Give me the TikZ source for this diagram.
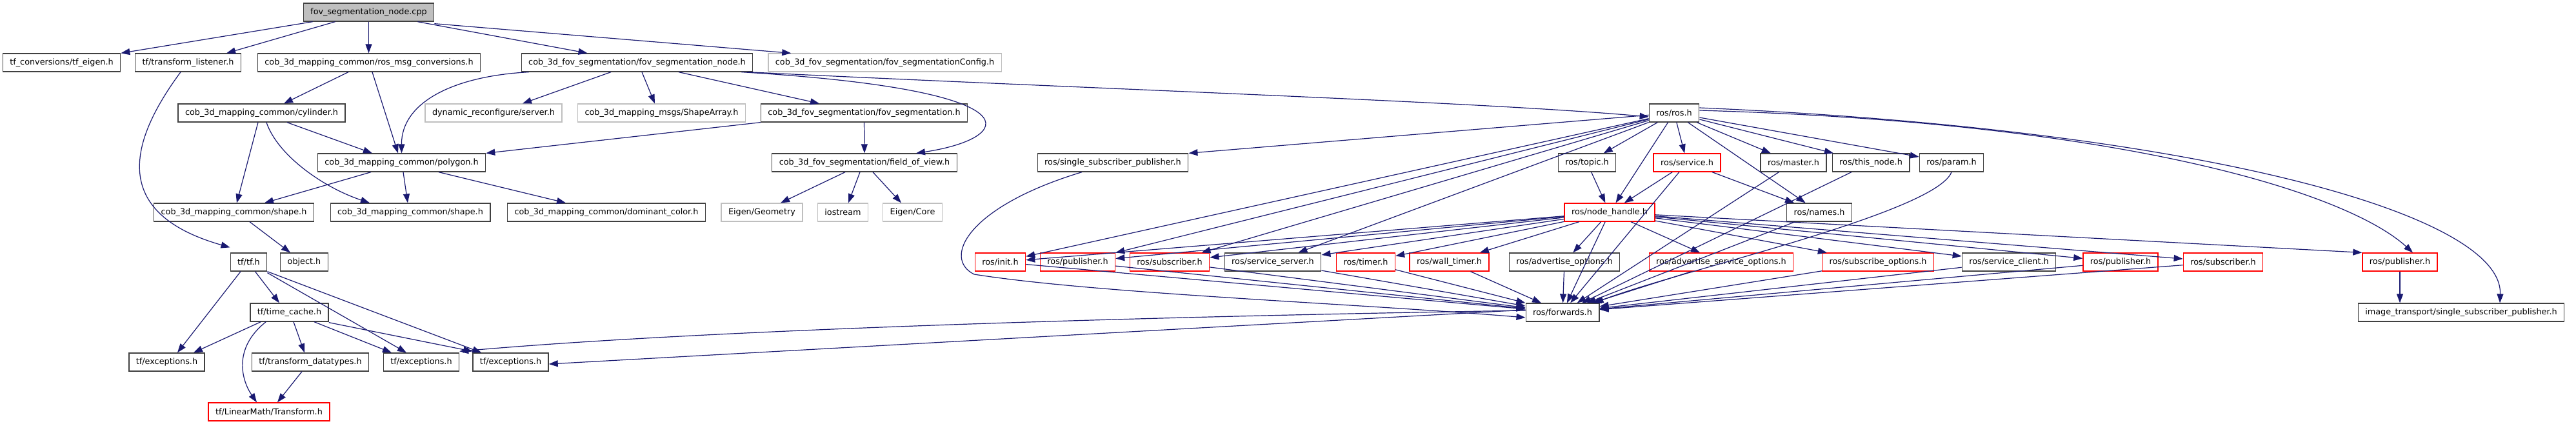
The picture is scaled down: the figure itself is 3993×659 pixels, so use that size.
\documentclass[tikz,border=0pt]{standalone}
\usepackage{fontspec}
\setmainfont{DejaVu Sans}
\usetikzlibrary{arrows.meta}

\definecolor{edgeblue}{HTML}{191970}
\definecolor{boxgray}{HTML}{404040}
\definecolor{extgray}{HTML}{BFBFBF}

\begin{document}
\begin{tikzpicture}[x=1pt,y=-1pt,
	file/.style={draw=boxgray,line width=1.3pt,minimum height=28pt,inner xsep=11pt,inner ysep=0pt,font=\fontsize{12.8}{14}\selectfont},
	trunc/.style={file,draw=red},
	ext/.style={file,draw=extgray},
	top/.style={file,fill=extgray},
	dep/.style={edgeblue,line width=1.2pt,-{Triangle[length=14pt,width=10pt]}}]
	\useasboundingbox (0,0) rectangle (3993,659);
	% rows
	\node[top] (root) at (571.5,19) {fov\_segmentation\_node.cpp};
	\node[file] (tfeigen) at (95.5,97) {tf\_conversions/tf\_eigen.h};
	\node[file] (tflisten) at (291.5,97) {tf/transform\_listener.h};
	\node[file] (rosmsg) at (572,97) {cob\_3d\_mapping\_common/ros\_msg\_conversions.h};
	\node[file] (fovnode) at (987.5,97) {cob\_3d\_fov\_segmentation/fov\_segmentation\_node.h};
	\node[ext] (fovcfg) at (1371.5,97) {cob\_3d\_fov\_segmentation/fov\_segmentationConfig.h};
	\node[file] (cylinder) at (405.5,175) {cob\_3d\_mapping\_common/cylinder.h};
	\node[ext] (dynrec) at (765,175) {dynamic\_reconfigure/server.h};
	\node[ext] (shapearr) at (1025.5,175) {cob\_3d\_mapping\_msgs/ShapeArray.h};
	\node[file] (fovseg) at (1339.5,175) {cob\_3d\_fov\_segmentation/fov\_segmentation.h};
	\node[file] (rosros) at (2595,175) {ros/ros.h};
	\node[file] (polygon) at (622.5,252) {cob\_3d\_mapping\_common/polygon.h};
	\node[file] (fov) at (1340,252) {cob\_3d\_fov\_segmentation/field\_of\_view.h};
	\node[file] (singlesub) at (1725,252) {ros/single\_subscriber\_publisher.h};
	\node[file] (topic) at (2460,252) {ros/topic.h};
	\node[trunc] (service) at (2615,252) {ros/service.h};
	\node[file] (master) at (2780,252) {ros/master.h};
	\node[file] (thisnode) at (2900,252) {ros/this\_node.h};
	\node[file] (param) at (3025,252) {ros/param.h};
	\node[file] (shapea) at (362.5,329) {cob\_3d\_mapping\_common/shape.h};
	\node[file] (shapeb) at (636,329) {cob\_3d\_mapping\_common/shape.h};
	\node[file] (domcol) at (940,329) {cob\_3d\_mapping\_common/dominant\_color.h};
	\node[ext] (eigeo) at (1181,329) {Eigen/Geometry};
	\node[ext] (iostr) at (1306.5,329) {iostream};
	\node[ext] (eicore) at (1414.5,329) {Eigen/Core};
	\node[trunc] (nodehandle) at (2495,329) {ros/node\_handle.h};
	\node[file] (names) at (2820,329) {ros/names.h};
	\node[file] (tftf) at (385.5,406) {tf/tf.h};
	\node[file] (object) at (471.5,406) {object.h};
	\node[trunc] (init) at (1550.5,406) {ros/init.h};
	\node[trunc] (puba) at (1670.5,406) {ros/publisher.h};
	\node[trunc] (suba) at (1813,406) {ros/subscriber.h};
	\node[file] (srvserv) at (1973,406) {ros/service\_server.h};
	\node[trunc] (timer) at (2117,406) {ros/timer.h};
	\node[trunc] (walltimer) at (2246.5,406) {ros/wall\_timer.h};
	\node[file] (advopt) at (2425,406) {ros/advertise\_options.h};
	\node[trunc] (advsrv) at (2668,406) {ros/advertise\_service\_options.h};
	\node[trunc] (subopt) at (2911,406) {ros/subscribe\_options.h};
	\node[file] (srvclient) at (3114,406) {ros/service\_client.h};
	\node[trunc] (pubb) at (3287,406) {ros/publisher.h};
	\node[trunc] (subb) at (3446,406) {ros/subscriber.h};
	\node[trunc] (pubc) at (3720,406) {ros/publisher.h};
	\node[file] (timecache) at (448.5,484) {tf/time\_cache.h};
	\node[file] (forwards) at (2422,484) {ros/forwards.h};
	\node[file] (imgtrans) at (3815,484) {image\_transport/single\_subscriber\_publisher.h};
	\node[file] (exca) at (258.5,561) {tf/exceptions.h};
	\node[file] (tfdata) at (481,561) {tf/transform\_datatypes.h};
	\node[file] (excb) at (653,561) {tf/exceptions.h};
	\node[file] (excc) at (791.5,561) {tf/exceptions.h};
	\node[trunc] (linmath) at (417,638) {tf/LinearMath/Transform.h};
	% root
	\draw[dep] ([xshift=15pt]root.south west) -- (tfeigen.north east);
	\draw[dep] ([xshift=50pt]root.south west) -- ([xshift=-23pt]tflisten.north east);
	\draw[dep] (root.south) -- (root.south|-rosmsg.north);
	\draw[dep] ([xshift=-26pt]root.south east) -- ([xshift=-77pt]fovnode.north);
	\draw[dep] ([yshift=-3pt]root.south east) -- ([xshift=36pt]fovcfg.north west);
	% mapping common
	\draw[dep] ([xshift=-32pt]rosmsg.south) -- ([xshift=34.5pt]cylinder.north);
	\draw[dep] ([xshift=5pt]rosmsg.south) -- ([xshift=-5.5pt]polygon.north);
	\draw[dep] ([xshift=-5.5pt]cylinder.south) -- ([xshift=4.5pt]shapea.north);
	\draw[dep] ([xshift=39.5pt]cylinder.south) -- ([xshift=-45.5pt]polygon.north);
	\draw[dep] ([xshift=7.5pt]cylinder.south) .. controls (430,240) and (500,290) .. ([xshift=-63pt]shapeb.north);
	\draw[dep] ([xshift=-47.5pt]polygon.south) -- ([xshift=47.5pt]shapea.north);
	\draw[dep] ([xshift=2.5pt]polygon.south) -- ([xshift=-4pt]shapeb.north);
	\draw[dep] ([xshift=57.5pt]polygon.south) -- ([xshift=-63pt]domcol.north);
	\draw[dep] ([xshift=24.5pt]shapea.south) -- ([xshift=-21.5pt]object.north);
	% tf
	\draw[dep] ([xshift=-11.5pt]tflisten.south) .. controls (200,220) and (170,330) .. ([yshift=8pt]tftf.north west);
	\draw[dep] ([xshift=-12.5pt]tftf.south) -- ([xshift=16.5pt]exca.north);
	\draw[dep] ([xshift=10pt]tftf.south) -- ([xshift=-15.5pt]timecache.north);
	\draw[dep] ([yshift=-2pt]tftf.south east) -- ([xshift=-23pt]excb.north);
	\draw[dep] (tftf.south east) -- ([xshift=14pt]excc.north west);
	\draw[dep] ([xshift=17pt]timecache.south west) -- ([xshift=41.5pt]exca.north);
	\draw[dep] ([xshift=25pt]timecache.south west) .. controls (360,540) and (375,590) .. ([xshift=-19pt]linmath.north);
	\draw[dep] ([xshift=6.5pt]timecache.south) -- ([xshift=-9pt]tfdata.north);
	\draw[dep] ([xshift=38.5pt]timecache.south) -- ([xshift=-46pt]excb.north);
	\draw[dep] ([yshift=-1pt]timecache.south east) -- ([yshift=2pt]excc.north west);
	\draw[dep] ([xshift=-13pt]tfdata.south) -- ([xshift=13pt]linmath.north);
	% fov segmentation
	\draw[dep] ([xshift=-40.5pt]fovnode.south) -- ([xshift=45pt]dynrec.north);
	\draw[dep] ([xshift=7.5pt]fovnode.south) -- ([xshift=-10.5pt]shapearr.north);
	\draw[dep] ([xshift=64.5pt]fovnode.south) -- ([xshift=-69.5pt]fovseg.north);
	\draw[dep] ([xshift=12pt]fovnode.south west) .. controls (700,118) and (622,160) .. (polygon.north);
	\draw[dep] ([xshift=-18pt]fovnode.south east) .. controls (1620,140) and (1570,215) .. ([xshift=80pt]fov.north);
	\draw[dep] ([xshift=-8pt]fovnode.south east) .. controls (1700,138) and (2300,158) .. ([yshift=-6pt]rosros.west);
	\draw[dep] (fovseg.south west) -- (polygon.north east);
	\draw[dep] (fovseg.south) -- (fov.north);
	\draw[dep] ([xshift=-30pt]fov.south) -- ([xshift=29pt]eigeo.north);
	\draw[dep] ([xshift=-7pt]fov.south) -- ([xshift=8.5pt]iostr.north);
	\draw[dep] ([xshift=13pt]fov.south) -- ([xshift=-17.5pt]eicore.north);
	% ros
	\draw[dep] (rosros) -- (singlesub.north east);
	\foreach \f in {init,puba,suba,srvserv,topic,service,master,thisnode,param,nodehandle,names}
		\draw[dep] (rosros) -- (\f);
	\draw[dep] ([yshift=4pt]rosros.east) .. controls (3300,190) and (3640,300) .. ([xshift=20pt]pubc.north);
	\draw[dep] ([yshift=8pt]rosros.east) .. controls (3400,200) and (3880,330) .. ([xshift=60pt]imgtrans.north);
	\foreach \f in {init,puba,suba,srvserv,timer,walltimer,advopt,advsrv,subopt,srvclient,pubb,subb,forwards}
		\draw[dep] (nodehandle) -- (\f);
	\draw[dep] (nodehandle) -- (pubc.north west);
	\draw[dep] (topic) -- (nodehandle);
	\draw[dep] (service) -- (nodehandle);
	\draw[dep] (service) -- (names);
	\foreach \f in {init,puba,suba,srvserv,timer,walltimer,advopt,advsrv,subopt,srvclient,pubb,subb,names,master,thisnode,service}
		\draw[dep] (\f) -- (forwards);
	\draw[dep] (param.south) .. controls (3000,330) and (2600,420) .. ([xshift=-8pt]forwards.north east);
	\draw[dep] ([xshift=-48pt]singlesub.south) .. controls (1500,320) and (1460,400) .. (1510,425) .. controls (1700,455) and (2100,470) .. ([yshift=-8pt]forwards.west);
	\draw[dep] (pubc) -- (pubc|-imgtrans.north);
	\draw[dep] ([yshift=3pt]forwards.west) .. controls (1800,490) and (1100,510) .. ([yshift=2pt]excb.north east);
	\draw[dep] ([yshift=4pt]forwards.west) -- ([yshift=-3pt]excc.east);
\end{tikzpicture}
\end{document}
